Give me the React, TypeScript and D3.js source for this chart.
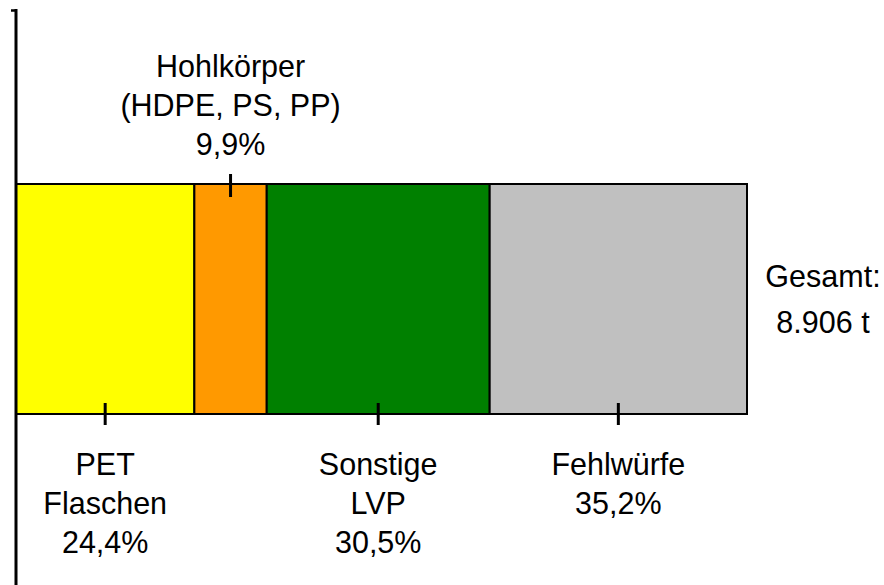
import React, { useEffect, useRef } from 'react';
import * as d3 from 'd3';

// share of each fraction in %, left to right
const categories = ['PET Flaschen', 'Hohlkörper', 'Sonstige LVP', 'Fehlwürfe'];
const labelLines = [
  ['PET', 'Flaschen', '24,4%'],
  ['Hohlkörper', '(HDPE, PS, PP)', '9,9%'],
  ['Sonstige', 'LVP', '30,5%'],
  ['Fehlwürfe', '35,2%'],
];
const values = [24.4, 9.9, 30.5, 35.2];
const colors = ['#FFFF00', '#FF9900', '#008000', '#C0C0C0'];
const labelSide = ['below', 'above', 'below', 'below'];
const totalLines = ['Gesamt:', '8.906 t'];

const App = () => {
  const svgRef = useRef<SVGSVGElement>(null);

  useEffect(() => {
    const svg = d3.select(svgRef.current);
    svg.selectAll('*').remove();

    const width = 884;
    const height = 585;
    const barLeft = 16;
    const barRight = 747;
    const barTop = 184;
    const barBottom = 414;
    const fontSize = 30.5;
    const lineGap = 39;

    const x = d3.scaleLinear().domain([0, 100]).range([barLeft, barRight]);

    let acc = 0;
    const segs = values.map((v, i) => {
      const s = { i, name: categories[i], start: acc, end: acc + v };
      acc += v;
      return s;
    });

    // bar segments
    svg.append('g')
      .selectAll('rect')
      .data(segs)
      .join('rect')
      .attr('x', d => x(d.start))
      .attr('y', barTop)
      .attr('width', d => x(d.end) - x(d.start))
      .attr('height', barBottom - barTop)
      .attr('fill', d => colors[d.i])
      .attr('stroke', '#000')
      .attr('stroke-width', 2);

    // small label ticks
    svg.append('g')
      .selectAll('line')
      .data(segs)
      .join('line')
      .attr('x1', d => x((d.start + d.end) / 2))
      .attr('x2', d => x((d.start + d.end) / 2))
      .attr('y1', d => labelSide[d.i] === 'above' ? barTop - 10 : barBottom - 11)
      .attr('y2', d => labelSide[d.i] === 'above' ? barTop + 13 : barBottom + 11)
      .attr('stroke', '#000')
      .attr('stroke-width', 3);

    // vertical axis line
    svg.append('line')
      .attr('x1', barLeft).attr('x2', barLeft)
      .attr('y1', 9).attr('y2', height)
      .attr('stroke', '#000').attr('stroke-width', 3);
    svg.append('line')
      .attr('x1', 11).attr('x2', barLeft)
      .attr('y1', 10.5).attr('y2', 10.5)
      .attr('stroke', '#000').attr('stroke-width', 2.5);

    // labels
    const labels = svg.append('g')
      .style('font-family', '"Liberation Sans", Arial, sans-serif')
      .style('font-size', `${fontSize}px`)
      .attr('fill', '#000')
      .attr('text-anchor', 'middle');

    segs.forEach(d => {
      const cx = x((d.start + d.end) / 2);
      const lines = labelLines[d.i];
      lines.forEach((t, j) => {
        const y = labelSide[d.i] === 'above'
          ? 155 - (lines.length - 1 - j) * lineGap
          : 475 + j * lineGap;
        labels.append('text').attr('x', cx).attr('y', y).text(t);
      });
    });

    totalLines.forEach((t, j) => {
      labels.append('text')
        .attr('x', 823)
        .attr('y', 287 + j * 46)
        .text(t);
    });

    svg.attr('width', width).attr('height', height);
  }, []);

  return (
    <svg
      ref={svgRef}
      width={884}
      height={585}
      style={{ position: 'absolute', left: 0, top: 0, background: '#fff' }}
    />
  );
};

export default App;
